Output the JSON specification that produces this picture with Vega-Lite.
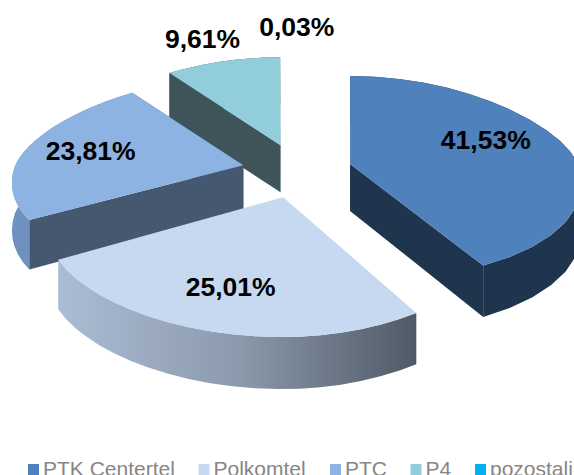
{"$schema":"https://vega.github.io/schema/vega-lite/v6.json","width":574,"height":475,"padding":0,"autosize":{"type":"none"},"background":"white","view":{"stroke":null},
"data":{"values":[{"operator":"PTK Centertel","share":41.53,"label":"41,53%"},{"operator":"Polkomtel","share":25.01,"label":"25,01%"},{"operator":"PTC","share":23.81,"label":"23,81%"},{"operator":"P4","share":9.61,"label":"9,61%"},{"operator":"pozostali","share":0.03,"label":"0,03%"}]},
"transform":[{"joinaggregate":[{"op":"sum","field":"share","as":"total"}]},{"stack":"share","offset":"zero","as":["s0","s1"]},
{"calculate":"2*PI*datum.s0/datum.total","as":"t0"},{"calculate":"2*PI*datum.s1/datum.total","as":"t1"},{"calculate":"(datum.t0+datum.t1)/2","as":"mid"},
{"calculate":"55*sin(datum.mid)","as":"ox"},{"calculate":"27*cos(datum.mid)","as":"oy"}],
"encoding":{"x":{"field":"X","type":"quantitative","scale":{"domain":[-297,277]},"axis":null},"y":{"field":"Y","type":"quantitative","scale":{"domain":[-304,171]},"axis":null}},
"layer":[
{"transform":[{"filter":"datum.operator!='Polkomtel'&&datum.operator!='pozostali'"},{"calculate":"[0,1]","as":"edge"},{"flatten":["edge"]},{"calculate":"datum.edge==0?datum.t0:datum.t1","as":"t"},{"calculate":"[0,1,2,3]","as":"p"},{"flatten":["p"]},{"calculate":"(datum.p==1||datum.p==2)?1:0","as":"r"},{"calculate":"datum.p>=2?47+5*datum.r*max(-cos(datum.t),0):0","as":"z"},{"calculate":"datum.ox+datum.r*(228-40*cos(datum.t))*sin(datum.t)","as":"X"},{"calculate":"datum.oy+datum.r*(cos(datum.t)>0?88:(datum.operator=='PTC'?108:118))*cos(datum.t)-datum.z","as":"Y"}],
"mark":{"type":"line","filled":true,"stroke":null,"clip":true},"encoding":{"color":{"field":"operator","type":"nominal","legend":null,"scale":{"domain":["PTK Centertel","PTC","P4"],"range":["#1F344D","#465870","#3F545A"]}},"detail":{"field":"edge"},"order":{"field":"p","type":"quantitative"}}},
{"transform":[{"filter":"datum.operator!='Polkomtel'&&datum.operator!='pozostali'"},{"calculate":"[0,0.05,0.1,0.15,0.2,0.25,0.3,0.35,0.4,0.45,0.5,0.55,0.6,0.65,0.7,0.75,0.8,0.85,0.9,0.95,1,1.05,1.1,1.15,1.2,1.25,1.3,1.35,1.4,1.45,1.5,1.55,1.6,1.65,1.7,1.75,1.8,1.85,1.9,1.95,2,2.05]","as":"p"},{"flatten":["p"]},{"calculate":"datum.p<=1?datum.p:2.05-datum.p","as":"f"},{"calculate":"datum.t0+datum.f*(datum.t1-datum.t0)","as":"t"},{"calculate":"datum.p>1?47+5*max(-cos(datum.t),0):0","as":"z"},{"calculate":"datum.ox+(228-40*cos(datum.t))*sin(datum.t)","as":"X"},{"calculate":"datum.oy+(cos(datum.t)>0?88:(datum.operator=='PTC'?108:118))*cos(datum.t)-datum.z","as":"Y"}],
"mark":{"type":"line","filled":true,"stroke":null,"clip":true},"encoding":{"color":{"field":"operator","type":"nominal","legend":null,"scale":{"domain":["PTK Centertel","PTC","P4"],"range":["#1F344D","#7090C0","#3F545A"]}},"order":{"field":"p","type":"quantitative"}}},
{"transform":[{"filter":"datum.operator!='Polkomtel'&&datum.operator!='pozostali'"},{"calculate":"[-1,0,0.05,0.1,0.15,0.2,0.25,0.3,0.35,0.4,0.45,0.5,0.55,0.6,0.65,0.7,0.75,0.8,0.85,0.9,0.95,1]","as":"f"},{"flatten":["f"]},{"calculate":"datum.f<0?0:1","as":"r"},{"calculate":"datum.t0+max(datum.f,0)*(datum.t1-datum.t0)","as":"t"},{"calculate":"datum.ox+datum.r*(228-40*cos(datum.t))*sin(datum.t)","as":"X"},{"calculate":"datum.oy+datum.r*(cos(datum.t)>0?88:(datum.operator=='PTC'?108:118))*cos(datum.t)","as":"Y"}],
"mark":{"type":"line","filled":true,"stroke":null,"clip":true},"encoding":{"color":{"field":"operator","type":"nominal","scale":{"domain":["PTK Centertel","Polkomtel","PTC","P4","pozostali"],"range":["#4F81BD","#C6D9F1","#8DB3E2","#92CDDC","#00B0F0"]},"legend":{"title":null,"orient":"none","legendX":23,"legendY":459,"padding":0,"direction":"horizontal","columns":5,"gridAlign":"none","columnPadding":18.5,"symbolType":"square","symbolSize":121,"symbolStrokeWidth":0,"labelFont":"Liberation Sans","labelFontSize":21,"labelColor":"#868686","labelLimit":200,"labelOffset":-1,"clipHeight":21,"symbolOpacity":1}},"order":{"field":"f","type":"quantitative"}}},
{"transform":[{"filter":"datum.operator=='Polkomtel'"},{"calculate":"[0,0.05,0.1,0.15,0.2,0.25,0.3,0.35,0.4,0.45,0.5,0.55,0.6,0.65,0.7,0.75,0.8,0.85,0.9,0.95,1,1.05,1.1,1.15,1.2,1.25,1.3,1.35,1.4,1.45,1.5,1.55,1.6,1.65,1.7,1.75,1.8,1.85,1.9,1.95,2,2.05]","as":"p"},{"flatten":["p"]},{"calculate":"datum.p<=1?datum.p:2.05-datum.p","as":"f"},{"calculate":"datum.t0+datum.f*(datum.t1-datum.t0)","as":"t"},{"calculate":"datum.p>1?47+5*max(-cos(datum.t),0):0","as":"z"},{"calculate":"datum.ox+(228-(datum.t>PI?65:40)*cos(datum.t))*sin(datum.t)","as":"X"},{"calculate":"datum.oy+(118+22*cos(datum.t)*cos(datum.t))*cos(datum.t)-datum.z","as":"Y"}],
"mark":{"type":"line","stroke":null,"clip":true,"fill":{"x1":0,"y1":0,"x2":1,"y2":0,"gradient":"linear","stops":[{"offset":0,"color":"#ABBCD4"},{"offset":0.5,"color":"#8C9AAD"},{"offset":1,"color":"#505A66"}]}},"encoding":{"order":{"field":"p","type":"quantitative"}}},
{"transform":[{"filter":"datum.operator=='Polkomtel'"},{"calculate":"[-1,0,0.05,0.1,0.15,0.2,0.25,0.3,0.35,0.4,0.45,0.5,0.55,0.6,0.65,0.7,0.75,0.8,0.85,0.9,0.95,1]","as":"f"},{"flatten":["f"]},{"calculate":"datum.f<0?0:1","as":"r"},{"calculate":"datum.t0+max(datum.f,0)*(datum.t1-datum.t0)","as":"t"},{"calculate":"datum.ox+datum.r*(228-(datum.t>PI?65:40)*cos(datum.t))*sin(datum.t)","as":"X"},{"calculate":"datum.oy+datum.r*(118+22*cos(datum.t)*cos(datum.t))*cos(datum.t)","as":"Y"}],
"mark":{"type":"line","stroke":null,"fill":"#C6D9F1","clip":true},"encoding":{"order":{"field":"f","type":"quantitative"}}},
{"transform":[{"calculate":"datum.share<1?1.32:datum.share<15?1.25:0.68","as":"r"},{"calculate":"datum.ox+datum.r*(228-40*cos(datum.mid))*sin(datum.mid)-(datum.share<1?0:7)","as":"X"},{"calculate":"datum.oy+datum.r*(cos(datum.mid)>0?88:118+22*cos(datum.mid)*cos(datum.mid))*cos(datum.mid)+(datum.share>40?7:0)","as":"Y"}],
"mark":{"type":"text","font":"Liberation Sans","fontWeight":"bold","fontSize":26.5,"color":"#000000","align":"center","baseline":"middle"},"encoding":{"text":{"field":"label"}}}
],
"resolve":{"scale":{"color":"independent"}}}
